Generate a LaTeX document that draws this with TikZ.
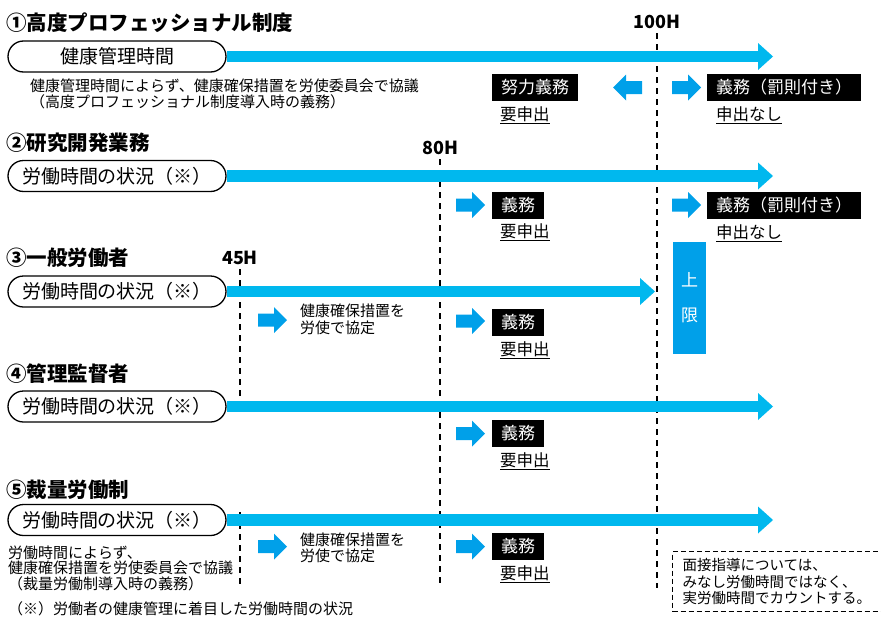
\documentclass[tikz,border=0pt]{standalone}
\usepackage{fontspec}
\setmainfont{Noto Sans CJK JP}
\usetikzlibrary{arrows.meta, shapes.misc}
\definecolor{flowblue}{HTML}{00B8EE}
\definecolor{markblue}{HTML}{00A0E9}
\tikzset{
  title/.style={anchor=west, inner sep=0, font=\fontsize{20.5}{24}\selectfont\bfseries},
  hours/.style={inner sep=0, font=\fontsize{18}{20}\selectfont\bfseries},
  timebox/.style={draw, rounded rectangle, line width=1.3pt, minimum width=218pt,
    minimum height=31pt, inner sep=0, font=\fontsize{19}{20}\selectfont},
  flow/.style={draw=flowblue, line width=11.5pt,
    -{Triangle[length=15pt, width=27pt, line width=0pt]}},
  guide/.style={line width=1.8pt, dash pattern=on 6pt off 5pt},
  duty/.style={fill=black, text=white, anchor=west, inner xsep=9pt, inner ysep=0,
    minimum height=27pt, font=\fontsize{17}{20}\selectfont},
  apply/.style={anchor=west, inner sep=0, font=\fontsize{16.5}{20}\selectfont},
  note/.style={anchor=west, inner sep=0, align=left, font=\fontsize{15}{16}\selectfont},
  rarrow/.pic={\fill[markblue] (0,-6.5) -- (16,-6.5) -- (16,-13) -- (29,0)
    -- (16,13) -- (16,6.5) -- (0,6.5) -- cycle;}
}
\begin{document}
\begin{tikzpicture}[x=1pt, y=-1pt]
\useasboundingbox (0,0) rectangle (881,616);

\node[hours] (L100) at (657,22) {100H};
\node[hours] (L80) at (440,148) {80H};
\node[hours] (L45) at (240,258) {45H};
\coordinate (e100) at (657,588);
\coordinate (e80) at (440,588);
\coordinate (e45) at (240,400);
\coordinate (s45b) at (240,512);
\coordinate (e45b) at (240,588);
\draw[guide] ([yshift=-4pt]L100.south) -- (e100);
\draw[guide] ([yshift=-4pt]L80.south) -- (e80);
\draw[guide] ([yshift=-4pt]L45.south) -- (e45);
\draw[guide] (s45b) -- (e45b);

\node[title] (h1) at (6,23) {①高度プロフェッショナル制度};
\node[timebox] (b1) at (117,56.5) {健康管理時間};
\coordinate (t1) at (773,56.5);
\draw[flow] (b1.east) -- (t1);
\node[note] (n1) at (30,94) {健康管理時間によらず、健康確保措置を労使委員会で協議\\（高度プロフェッショナル制度導入時の義務）};
\node[duty] (d1a) at (492,87.5) {努力義務};
\node[duty] (d1b) at (707,87.5) {義務（罰則付き）};
\node[apply] (a1a) at (500,115) {\underline{要申出}};
\node[apply] (a1b) at (716,115) {\underline{申出なし}};
\pic[xscale=-1] at (642,87.5) {rarrow};
\pic at (672,87.5) {rarrow};

\node[title] (h2) at (6,143) {②研究開発業務};
\node[timebox] (b2) at (117,176) {労働時間の状況（※）};
\coordinate (t2) at (773,176);
\draw[flow] (b2.east) -- (t2);
\node[duty] (d2a) at (492,205) {義務};
\node[duty] (d2b) at (707,205) {義務（罰則付き）};
\node[apply] (a2a) at (500,232) {\underline{要申出}};
\node[apply] (a2b) at (716,233) {\underline{申出なし}};
\pic at (456,205) {rarrow};
\pic at (672,205) {rarrow};

\node[title] (h3) at (6,258) {③一般労働者};
\node[timebox] (b3) at (117,291.5) {労働時間の状況（※）};
\coordinate (t3) at (655,291.5);
\draw[flow] (b3.east) -- (t3);
\node[note, font=\fontsize{15}{17}\selectfont] (p3) at (300,319.5) {健康確保措置を\\労使で協定};
\node[duty] (d3) at (492,322) {義務};
\node[apply] (a3) at (500,350) {\underline{要申出}};
\pic at (258,320) {rarrow};
\pic at (456,321) {rarrow};
\node[fill=markblue, text=white, minimum width=33pt, minimum height=112pt, inner sep=0,
  align=center, font=\fontsize{17}{35}\selectfont] (cap) at (689.5,298) {上\\限};

\node[title] (h4) at (6,374) {④管理監督者};
\node[timebox] (b4) at (117,406.5) {労働時間の状況（※）};
\coordinate (t4) at (773,406.5);
\draw[flow] (b4.east) -- (t4);
\node[duty] (d4) at (492,433.5) {義務};
\node[apply] (a4) at (500,461) {\underline{要申出}};
\pic at (456,433.5) {rarrow};

\node[title] (h5) at (6,490) {⑤裁量労働制};
\node[timebox] (b5) at (117,520) {労働時間の状況（※）};
\coordinate (t5) at (773,520);
\draw[flow] (b5.east) -- (t5);
\node[note, font=\fontsize{15}{15.5}\selectfont] (n5) at (8,568) {労働時間によらず、\\健康確保措置を労使委員会で協議\\（裁量労働制導入時の義務）};
\node[note] (p5) at (300,548) {健康確保措置を\\労使で協定};
\node[duty] (d5) at (492,546.5) {義務};
\node[apply] (a5) at (500,574) {\underline{要申出}};
\pic at (258,546.5) {rarrow};
\pic at (456,546.5) {rarrow};
\node[draw, line width=1.2pt, dash pattern=on 5pt off 3pt, anchor=north west,
  minimum width=206pt, minimum height=60pt, inner xsep=10pt, align=left,
  font=\fontsize{14.5}{16.5}\selectfont] (memo) at (672,551) {面接指導については、\\みなし労働時間ではなく、\\実労働時間でカウントする。};

\node[note] (foot) at (8,609) {（※）労働者の健康管理に着目した労働時間の状況};
\end{tikzpicture}
\end{document}
